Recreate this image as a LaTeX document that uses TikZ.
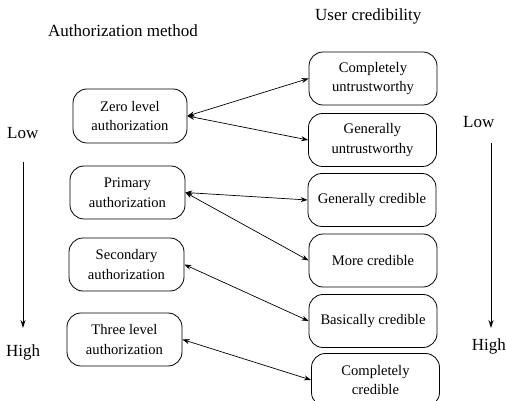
\documentclass[tikz,border=0pt]{standalone}
\usepackage{fontspec}
\setmainfont{Liberation Serif}
\usetikzlibrary{arrows.meta}
\begin{document}
\begin{tikzpicture}[x=1pt,y=-1pt,
 box/.style={draw, rounded corners=14pt, minimum height=53pt, align=center,
   font=\fontsize{14.6}{19.5}\selectfont, inner sep=0pt, line width=0.8pt},
 lbox/.style={box, minimum width=115pt},
 rbox/.style={box, minimum width=128pt},
 lbl/.style={font=\fontsize{17}{20}\selectfont, inner sep=0pt, anchor=base west},
 conn/.style={{Stealth[length=7pt,width=5pt]}-{Stealth[length=7pt,width=5pt]}, line width=0.7pt},
 levelarrow/.style={-{Stealth[length=8pt,width=5pt]}, line width=0.8pt}]
\useasboundingbox (0,0) rectangle (507,401);
% headings
\node[lbl] (h1) at (48,37) {Authorization method};
\node[lbl] (h2) at (315,21) {User credibility};
% left scale
\node[lbl] (lowL) at (7,139) {Low};
\node[lbl] (highL) at (6,357) {High};
\coordinate (aL1) at (23,162);
\coordinate (aL2) at (23,328);
\draw[levelarrow] (aL1) -- (aL2);
% right scale
\node[lbl] (lowR) at (463,128) {Low};
\node[lbl, anchor=base east] (highR) at (506,351) {High};
\coordinate (aR1) at (491,143);
\coordinate (aR2) at (491,328);
\draw[levelarrow] (aR1) -- (aR2);
% left boxes
\node[lbox, minimum width=114pt, minimum height=54pt] (z) at (130,116) {Zero level\\authorization};
\node[lbox] (p) at (127.5,192.5) {Primary\\authorization};
\node[lbox] (s) at (126.5,264.5) {Secondary\\authorization};
\node[lbox] (t) at (124.5,339.5) {Three level\\authorization};
% right boxes
\node[rbox] (cu) at (373,78.5) {Completely\\untrustworthy};
\node[rbox] (gu) at (372.5,140) {Generally\\untrustworthy};
\node[rbox] (gc) at (372,200) {Generally credible};
\node[rbox] (mc) at (373,260.5) {More credible};
\node[rbox] (bc) at (373,321) {Basically credible};
\node[rbox] (cc) at (375.5,380) {Completely\\credible};
% connectors
\draw[conn] (z.east) -- (cu.west);
\draw[conn] (z.east) -- (gu.west);
\draw[conn] (p.east) -- (gc.west);
\draw[conn] (p.east) -- (mc.west);
\draw[conn] (s.east) -- (bc.west);
\draw[conn] (t.east) -- (cc.west);
\end{tikzpicture}
\end{document}
